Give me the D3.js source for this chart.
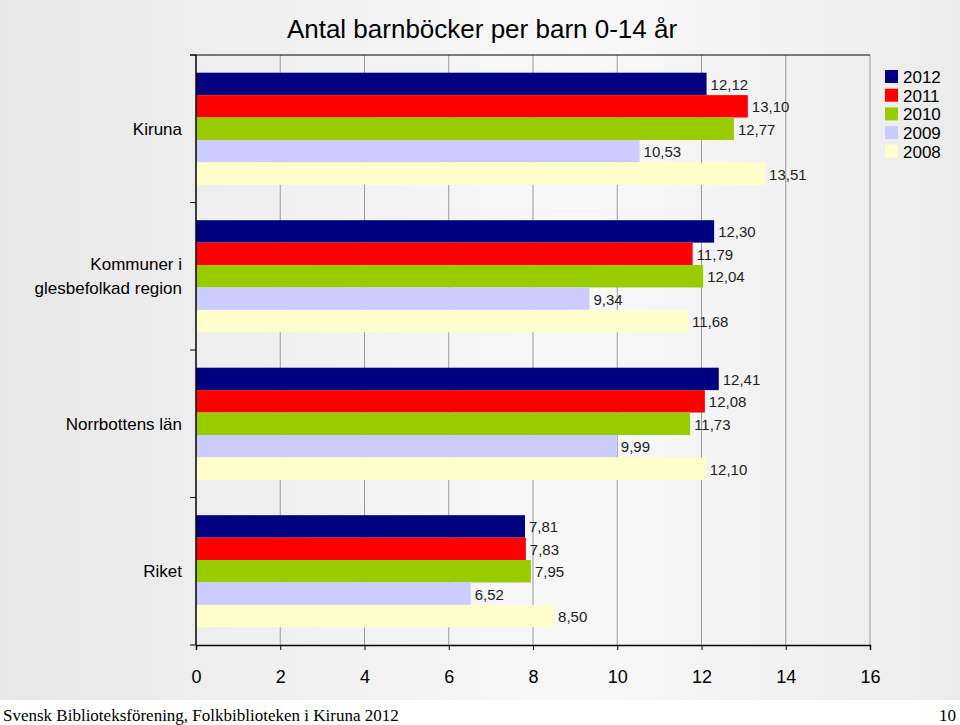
<!DOCTYPE html>
<html><head><meta charset="utf-8">
<script src="https://cdn.jsdelivr.net/npm/d3@7"></script>
<style>body{margin:0;background:#fff}</style>
</head><body><svg id="c"></svg>
<script>
const categories = ["Kiruna", "Kommuner i\nglesbefolkad region", "Norrbottens län", "Riket"];
const years = ["2012", "2011", "2010", "2009", "2008"];
const colors = ["#000080", "#ff0000", "#99cc00", "#ccccff", "#ffffcc"];
const values = [
  [12.12, 13.10, 12.77, 10.53, 13.51],
  [12.30, 11.79, 12.04, 9.34, 11.68],
  [12.41, 12.08, 11.73, 9.99, 12.10],
  [7.81, 7.83, 7.95, 6.52, 8.50]
];
const xTicks = [0, 2, 4, 6, 8, 10, 12, 14, 16];

const width = 960, height = 725;
const mLeft = 196, mRight = 870, mTop = 55, mBottom = 645;
const svg = d3.select("#c").attr("width", width).attr("height", height)
  .style("font-family", "Liberation Sans, Arial, sans-serif");

const defs = svg.append("defs");
const g1 = defs.append("linearGradient").attr("id", "bg").attr("x1", 0).attr("x2", 1);
g1.append("stop").attr("offset", 0).attr("stop-color", "#e8e8e8");
g1.append("stop").attr("offset", 0.6).attr("stop-color", "#f8f8f8");
g1.append("stop").attr("offset", 1).attr("stop-color", "#ececec");
svg.append("rect").attr("width", width).attr("height", 700).attr("fill", "url(#bg)");
svg.append("rect").attr("y", 700).attr("width", width).attr("height", 25).attr("fill", "#fff");

const x = d3.scaleLinear().domain([0, 16]).range([mLeft, mRight]);
const y = d3.scaleBand().domain(categories).range([mTop, mBottom]).paddingInner(0.24).paddingOuter(0.12);
const yi = d3.scaleBand().domain(years).range([0, y.bandwidth()]);

// grid
svg.append("g").selectAll("line").data(xTicks.slice(1)).join("line")
  .attr("x1", d => x(d)).attr("x2", d => x(d)).attr("y1", mTop).attr("y2", mBottom)
  .attr("stroke", "#999").attr("stroke-width", 1);

// bars
const grp = svg.append("g").selectAll("g").data(categories).join("g")
  .attr("transform", d => `translate(0,${y(d)})`);
grp.each(function(c, ci) {
  const gg = d3.select(this);
  gg.selectAll("rect").data(values[ci]).join("rect")
    .attr("x", x(0)).attr("y", (d, i) => yi(years[i]))
    .attr("width", d => x(d) - x(0)).attr("height", yi.bandwidth())
    .attr("fill", (d, i) => colors[i]);
  gg.selectAll("text").data(values[ci]).join("text")
    .attr("x", d => x(d) + 4).attr("y", (d, i) => yi(years[i]) + yi.bandwidth() / 2 + 6)
    .attr("font-size", 15).attr("fill", "#222")
    .text(d => d.toFixed(2).replace(".", ","));
});

// axes
svg.append("g").attr("transform", `translate(0,${mBottom})`)
  .call(d3.axisBottom(x).tickValues(xTicks).tickSize(5).tickPadding(20).tickFormat(d => d))
  .call(g => g.select(".domain").attr("stroke", "#000").attr("stroke-width", 1.5))
  .call(g => g.selectAll("text").attr("font-size", 18).attr("fill", "#000")
    .style("font-family", "Liberation Sans, Arial, sans-serif"));
const yBounds = [mTop, ...categories.map(c => y(c) + y.bandwidth() + y.step() * y.paddingInner() / 2).slice(0, 3), mBottom];
svg.append("line").attr("x1", mLeft).attr("x2", mLeft).attr("y1", mTop).attr("y2", mBottom).attr("stroke", "#000").attr("stroke-width", 1.5);
svg.append("line").attr("x1", mLeft - 6).attr("x2", mRight).attr("y1", mTop).attr("y2", mTop).attr("stroke", "#000").attr("stroke-width", 1);
svg.append("g").selectAll("line").data(yBounds).join("line")
  .attr("x1", mLeft - 6).attr("x2", mLeft).attr("y1", d => d).attr("y2", d => d).attr("stroke", "#000");

// category labels
svg.append("g").selectAll("text").data(categories).join("text")
  .attr("text-anchor", "end").attr("font-size", 17).attr("fill", "#000")
  .each(function(c) {
    const lines = c.split("\n");
    const cy = y(c) + y.bandwidth() / 2 - (lines.length - 1) * 12 + 6;
    d3.select(this).selectAll("tspan").data(lines).join("tspan")
      .attr("x", 182).attr("y", (d, i) => cy + i * 24).text(d => d);
  });

// title
svg.append("text").attr("x", 482).attr("y", 38).attr("text-anchor", "middle")
  .attr("font-size", 26).attr("fill", "#000").text("Antal barnböcker per barn 0-14 år");

// legend
const lg = svg.append("g").selectAll("g").data(years).join("g")
  .attr("transform", (d, i) => `translate(885,${70 + i * 18.7})`);
lg.append("rect").attr("width", 13).attr("height", 13).attr("fill", (d, i) => colors[i]);
lg.append("text").attr("x", 18).attr("y", 13).attr("font-size", 17).text(d => d);

// footer
svg.append("text").attr("x", 3).attr("y", 721).attr("font-size", 17)
  .style("font-family", "Liberation Serif, serif").text("Svensk Biblioteksförening, Folkbiblioteken i Kiruna 2012");
svg.append("text").attr("x", 956).attr("y", 721).attr("text-anchor", "end").attr("font-size", 17)
  .style("font-family", "Liberation Serif, serif").text("10");
</script></body></html>
